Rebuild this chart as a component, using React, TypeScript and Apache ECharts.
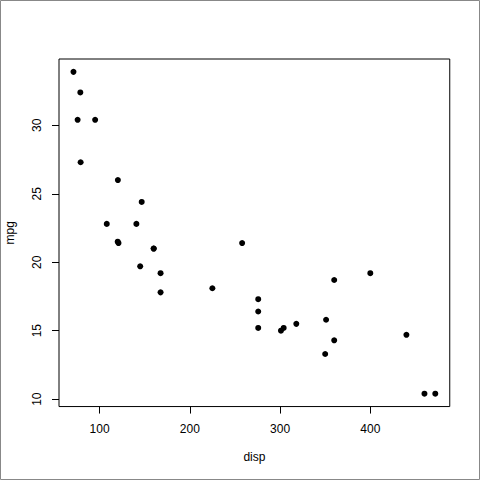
import React, { useEffect, useRef } from "react";
import * as echarts from "echarts";

const disp = [160, 160, 108, 258, 360, 225, 360, 146.7, 140.8, 167.6, 167.6, 275.8, 275.8, 275.8, 472, 460, 440, 78.7, 75.7, 71.1, 120.1, 318, 304, 350, 400, 79, 120.3, 95.1, 351, 145, 301, 121];
const mpg = [21.0, 21.0, 22.8, 21.4, 18.7, 18.1, 14.3, 24.4, 22.8, 19.2, 17.8, 16.4, 17.3, 15.2, 10.4, 10.4, 14.7, 32.4, 30.4, 33.9, 21.5, 15.5, 15.2, 13.3, 19.2, 27.3, 26.0, 30.4, 15.8, 19.7, 15.0, 21.4];
const xTicks = [100, 200, 300, 400];
const yTicks = [10, 15, 20, 25, 30];
const xTitle = "disp";
const yTitle = "mpg";

export default function App() {
  const ref = useRef<HTMLDivElement>(null);
  useEffect(() => {
    if (!ref.current) return;
    const chart = echarts.init(ref.current, null, { renderer: "svg" });
    const xmin = Math.min(...disp), xmax = Math.max(...disp);
    const ymin = Math.min(...mpg), ymax = Math.max(...mpg);
    const xr = (xmax - xmin) * 0.04, yr = (ymax - ymin) * 0.04;
    const font = "'Liberation Sans', Arial, Helvetica, sans-serif";
    chart.setOption({
      animation: false,
      backgroundColor: "#fff",
      textStyle: { fontFamily: font },
      graphic: [
        { type: "rect", shape: { x: 0.5, y: 0.5, width: 479, height: 479 }, style: { fill: "none", stroke: "#888", lineWidth: 1 }, silent: true },
        { type: "text", x: 254.4, y: 457, style: { text: xTitle, fill: "#000", font: `12px ${font}`, textAlign: "center", textVerticalAlign: "middle" } },
        { type: "text", x: 10, y: 232.8, rotation: Math.PI / 2, style: { text: yTitle, fill: "#000", font: `12px ${font}`, textAlign: "center", textVerticalAlign: "middle" } },
      ],
      grid: { left: 59, right: 30.24, top: 59, bottom: 73.44, show: true, borderColor: "#000", borderWidth: 1, backgroundColor: "transparent" },
      xAxis: {
        type: "value",
        min: xmin - xr,
        max: xmax + xr,
        axisLine: { show: false },
        splitLine: { show: false },
        axisTick: { show: true, length: 7, customValues: xTicks, lineStyle: { color: "#000" } },
        axisLabel: { customValues: xTicks, margin: 16, color: "#000", fontSize: 12, fontFamily: font },
      },
      yAxis: {
        type: "value",
        min: ymin - yr,
        max: ymax + yr,
        axisLine: { show: false },
        splitLine: { show: false },
        axisTick: { show: true, length: 7, customValues: yTicks, lineStyle: { color: "#000" } },
        axisLabel: { customValues: yTicks, margin: 16, rotate: 90, color: "#000", fontSize: 12, fontFamily: font },
      },
      series: [
        {
          type: "scatter",
          data: disp.map((d, i) => [d, mpg[i]]),
          symbol: "circle",
          symbolSize: 6,
          itemStyle: { color: "#000", opacity: 1 },
        },
      ],
    });
    return () => chart.dispose();
  }, []);
  return <div ref={ref} style={{ position: "fixed", left: 0, top: 0, width: 480, height: 480 }} />;
}
